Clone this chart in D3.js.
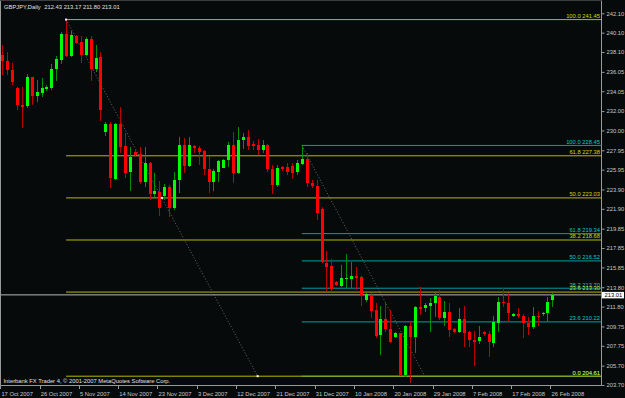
<!DOCTYPE html>
<html>
<head>
<meta charset="utf-8">
<script src="https://cdn.jsdelivr.net/npm/d3@7"></script>
<style>
  body { margin: 0; background: #060a0b; }
  svg { display: block; }
  text { font-family: "Liberation Sans", Arial, sans-serif; font-size: 5.8px; }
</style>
</head>
<body>
<svg id="chart" width="625" height="398"></svg>
<script>
// GBPJPY daily bars (Sunday bars included, no 1 Jan)
var dates = [
  '2007-10-17','2007-10-18','2007-10-19','2007-10-21','2007-10-22','2007-10-23','2007-10-24','2007-10-25',
  '2007-10-26','2007-10-28','2007-10-29','2007-10-30','2007-10-31','2007-11-01','2007-11-02','2007-11-04',
  '2007-11-05','2007-11-06','2007-11-07','2007-11-08','2007-11-09','2007-11-11','2007-11-12','2007-11-13',
  '2007-11-14','2007-11-15','2007-11-16','2007-11-18','2007-11-19','2007-11-20','2007-11-21','2007-11-22',
  '2007-11-23','2007-11-25','2007-11-26','2007-11-27','2007-11-28','2007-11-29','2007-11-30','2007-12-02',
  '2007-12-03','2007-12-04','2007-12-05','2007-12-06','2007-12-07','2007-12-09','2007-12-10','2007-12-11',
  '2007-12-12','2007-12-13','2007-12-14','2007-12-16','2007-12-17','2007-12-18','2007-12-19','2007-12-20',
  '2007-12-21','2007-12-23','2007-12-24','2007-12-25','2007-12-26','2007-12-27','2007-12-28','2007-12-30',
  '2007-12-31','2008-01-02','2008-01-03','2008-01-04','2008-01-06','2008-01-07','2008-01-08','2008-01-09',
  '2008-01-10','2008-01-11','2008-01-13','2008-01-14','2008-01-15','2008-01-16','2008-01-17','2008-01-18',
  '2008-01-20','2008-01-21','2008-01-22','2008-01-23','2008-01-24','2008-01-25','2008-01-27','2008-01-28',
  '2008-01-29','2008-01-30','2008-01-31','2008-02-01','2008-02-03','2008-02-04','2008-02-05','2008-02-06',
  '2008-02-07','2008-02-08','2008-02-10','2008-02-11','2008-02-12','2008-02-13','2008-02-14','2008-02-15',
  '2008-02-17','2008-02-18','2008-02-19','2008-02-20','2008-02-21','2008-02-22','2008-02-24','2008-02-25',
  '2008-02-26'
]
var open = [
  237.79,237.21,236.24,234.42,232.60,232.52,235.48,233.56,233.90,234.28,234.42,236.35,237.28,239.96,237.69,239.76,
  239.17,237.79,239.45,236.35,237.62,229.84,230.63,225.02,230.63,228.39,225.67,227.81,227.57,224.71,226.67,223.43,
  223.67,223.23,224.19,221.95,224.88,228.49,226.33,228.39,228.22,227.87,225.98,224.71,225.74,226.15,226.94,228.49,
  225.57,229.01,229.36,228.60,228.49,227.98,228.49,225.98,224.36,226.19,226.26,226.30,225.74,226.50,227.01,224.53,
  224.26,221.88,216.34,216.03,214.38,213.96,214.65,214.65,214.99,214.89,212.48,213.00,211.45,208.83,210.52,209.45,
  208.69,209.04,204.73,209.80,208.69,211.72,211.69,211.90,212.14,212.83,210.59,211.28,209.45,209.21,210.48,209.14,
  208.35,208.28,209.21,208.97,208.07,210.14,212.31,212.17,210.86,211.00,210.83,210.07,209.66,210.83,211.03,211.17,
  212.43
]
var high = [
  238.83,238.07,237.00,234.52,234.52,235.83,235.55,235.21,235.38,234.69,236.83,237.69,240.13,241.45,240.31,239.86,
  239.76,239.69,239.76,238.83,238.14,230.90,230.90,230.80,232.39,229.70,228.32,227.98,228.32,228.32,226.77,225.57,
  224.78,224.46,224.36,225.74,229.29,229.18,229.36,228.49,228.39,227.98,227.36,225.98,226.94,227.01,228.84,229.87,
  230.39,229.77,230.04,228.94,229.08,229.01,228.60,226.43,226.43,226.32,226.60,226.67,226.94,228.45,227.63,224.88,
  224.88,222.12,217.54,216.68,214.40,216.10,217.20,216.44,215.92,214.99,213.17,213.24,212.20,211.86,212.31,211.45,
  209.14,209.11,209.90,210.24,211.86,213.86,212.14,212.65,213.24,213.52,212.41,212.20,209.55,211.62,211.86,209.31,
  209.28,209.80,209.28,209.28,210.83,212.76,213.69,213.17,211.10,211.62,211.00,210.76,211.79,211.38,211.28,212.76,
  213.17
]
var low = [
  235.73,235.73,234.69,232.11,230.20,232.28,232.63,232.97,233.42,234.11,234.18,235.11,236.86,237.55,237.62,238.93,
  237.00,237.69,235.11,236.07,231.01,229.46,224.09,224.88,227.70,225.05,223.78,227.29,224.43,224.12,222.81,223.16,
  221.16,222.81,221.09,221.78,223.57,225.57,226.19,227.63,226.43,225.40,223.57,223.78,224.71,226.08,226.26,224.60,
  225.46,228.05,227.98,227.98,227.46,227.63,225.74,223.43,224.19,225.84,225.40,224.95,225.40,226.43,224.19,224.01,
  220.75,216.27,213.41,213.34,213.96,213.86,213.69,213.62,213.52,211.86,212.31,210.59,208.59,206.80,209.21,208.00,
  208.59,204.63,204.56,203.90,206.97,210.93,211.28,209.21,210.76,210.42,209.80,208.69,209.11,209.04,207.66,207.59,
  205.66,207.94,208.76,206.63,207.66,209.21,211.79,210.24,210.76,210.59,208.59,208.87,209.45,209.80,210.83,210.31,
  211.80
]
var close = [
  237.21,236.24,234.97,232.63,232.45,235.48,233.56,234.00,234.38,234.52,236.35,237.35,239.96,237.72,239.86,239.07,
  237.79,239.45,236.35,237.52,232.11,230.63,225.05,230.63,228.32,225.64,227.29,227.46,224.71,226.67,223.43,223.74,
  221.95,224.19,221.95,224.88,228.49,226.33,228.49,228.15,227.81,225.98,224.71,225.84,226.84,226.94,228.49,225.57,
  229.01,229.36,228.39,228.39,227.98,228.49,225.98,224.36,226.08,225.98,225.67,225.60,226.60,227.01,224.53,224.29,
  221.43,216.44,215.92,213.62,214.03,214.72,214.79,214.99,214.79,213.00,213.10,211.35,208.76,210.52,209.45,208.18,
  209.04,204.73,209.80,208.69,211.79,211.52,211.97,212.17,212.90,210.59,211.28,209.38,209.21,210.48,209.04,208.35,
  208.18,208.69,208.97,208.11,210.24,212.31,212.14,211.17,211.00,210.83,210.14,209.66,210.83,210.72,211.17,212.31,
  213.01
]

// price axis labels as printed on the right scale
var priceTicks = [242.10, 240.10, 238.10, 236.05, 234.05, 232.00, 230.00, 227.95, 225.95, 223.90,
  221.90, 219.85, 217.85, 215.85, 213.80, 211.80, 209.75, 207.75, 205.70, 203.70]

// two fibonacci retracements
var fiboLevels = ['100.0', '61.8', '50.0', '38.2', '23.6', '0.0']
var fiboYellow = [241.45, 227.38, 223.03, 218.68, 213.30, 204.61]
var fiboCyan = [228.45, 219.34, 216.52, 213.70, 210.22, 204.61]
var fiboYellowBars = [13, 52]
var fiboCyanBars = [61, 86]

var lastPrice = 213.01
var symbol = 'GBPJPY,Daily'

var parse = d3.timeParse('%Y-%m-%d'),
    fmt = d3.timeFormat('%-d %b %Y')

var svg = d3.select('#chart')
var right = 601.5, bottom = 385.5

var x = d3.scaleLinear().domain([0, 112]).range([2.2, 552.4])
var y = d3.scaleLinear().domain([203.70, 242.10]).range([385, 13.3])

var bars = dates.map(function (d, i) {
  return { i: i, date: parse(d), o: open[i], h: high[i], l: low[i], c: close[i] }
})

// chart frame: left, right and bottom edges, dim top edge
svg.append('path')
  .attr('d', 'M0.5,0.5V' + bottom + 'H' + right + 'V0.5')
  .attr('fill', 'none')
  .attr('stroke', '#9a9a9a')
svg.append('line')
  .attr('x1', 0.5).attr('x2', right).attr('y1', 0.5).attr('y2', 0.5)
  .attr('stroke', '#3a3e40')

// fibo levels
function fibo (prices, barIdx, lineColor, textColor) {
  var x0 = x(barIdx[0])
  var g = svg.append('g')
  g.selectAll('line')
    .data(prices)
    .enter()
    .append('line')
    .attr('x1', x0).attr('x2', right)
    .attr('y1', function (d) { return y(d) })
    .attr('y2', function (d) { return y(d) })
    .attr('stroke', lineColor)
  g.selectAll('text')
    .data(prices)
    .enter()
    .append('text')
    .attr('x', 600)
    .attr('y', function (d) { return y(d) - 1.6 })
    .attr('text-anchor', 'end')
    .attr('fill', textColor)
    .text(function (d, k) { return fiboLevels[k] + ' ' + d.toFixed(2) })
  // dotted trend line between the two anchors
  svg.append('line')
    .attr('x1', x0).attr('y1', y(prices[0]))
    .attr('x2', x(barIdx[1])).attr('y2', y(prices[prices.length - 1]))
    .attr('stroke', '#6a6a6a')
    .attr('stroke-dasharray', '1,2')
}
fibo(fiboCyan, fiboCyanBars, '#00a0a0', '#10c8c8')
fibo(fiboYellow, fiboYellowBars, '#b8b800', '#d8d800')

// last price line
svg.append('line')
  .attr('x1', 1).attr('x2', right)
  .attr('y1', y(lastPrice)).attr('y2', y(lastPrice))
  .attr('stroke', '#b8b8b8')

// candles
var candle = svg.append('g').selectAll('g')
  .data(bars)
  .enter()
  .append('g')
  .attr('shape-rendering', 'crispEdges')

candle.append('line')
  .attr('x1', function (d) { return Math.round(x(d.i)) + 0.5 })
  .attr('x2', function (d) { return Math.round(x(d.i)) + 0.5 })
  .attr('y1', function (d) { return y(d.h) })
  .attr('y2', function (d) { return y(d.l) })
  .attr('stroke', function (d) { return d.c >= d.o ? '#009000' : '#c00000' })

candle.append('rect')
  .attr('x', function (d) { return Math.round(x(d.i)) - 1 })
  .attr('width', 3)
  .attr('y', function (d) { return y(Math.max(d.o, d.c)) })
  .attr('height', function (d) { return Math.max(1, Math.abs(y(d.o) - y(d.c))) })
  .attr('fill', function (d) { return d.c >= d.o ? '#00ff00' : '#ff0000' })

// selection markers of the yellow fibo
var mids = [
  [x(fiboYellowBars[0]), y(fiboYellow[0])],
  [(x(fiboYellowBars[0]) + x(fiboYellowBars[1])) / 2, y(fiboYellow[2])],
  [x(fiboYellowBars[1]), y(fiboYellow[5])]
]
svg.selectAll('.marker')
  .data(mids)
  .enter()
  .append('rect')
  .attr('class', 'marker')
  .attr('x', function (d) { return d[0] - 1 })
  .attr('y', function (d) { return d[1] - 1 })
  .attr('width', 2).attr('height', 2)
  .attr('fill', '#ffffff')

// right price axis
var yAxis = svg.append('g')
  .attr('transform', 'translate(' + right + ',0)')
  .call(d3.axisRight(y).tickValues(priceTicks).tickSize(3).tickPadding(2)
    .tickFormat(d3.format('.2f')))
yAxis.select('.domain').remove()
yAxis.selectAll('line').attr('stroke', '#9a9a9a')
yAxis.selectAll('text')
  .attr('fill', '#c8c8c8')
  .style('font-size', '5.8px')
  .style('font-family', '"Liberation Sans", Arial, sans-serif')

// last price box
svg.append('rect')
  .attr('x', 602).attr('y', y(lastPrice) - 3)
  .attr('width', 22).attr('height', 6.5)
  .attr('fill', '#ffffff')
svg.append('text')
  .attr('x', 604.5).attr('y', y(lastPrice) + 2.3)
  .attr('fill', '#000000')
  .text(lastPrice.toFixed(2))

// time axis, one label every 8 bars
var timeTicks = d3.range(0, bars.length, 8)
var tg = svg.append('g').selectAll('g')
  .data(timeTicks)
  .enter()
  .append('g')
tg.append('line')
  .attr('x1', function (i) { return Math.round(x(i) - 2) + 0.5 })
  .attr('x2', function (i) { return Math.round(x(i) - 2) + 0.5 })
  .attr('y1', bottom).attr('y2', bottom + 3.5)
  .attr('stroke', '#9a9a9a')
tg.append('text')
  .attr('x', function (i) { return x(i) - 0.8 })
  .attr('y', 395.5)
  .attr('fill', '#c8c8c8')
  .text(function (i) { return fmt(bars[i].date) })

// header and copyright
svg.append('text')
  .attr('x', 4).attr('y', 8.5)
  .attr('fill', '#e0e0e0')
  .text(symbol)
svg.append('text')
  .attr('x', 44.3).attr('y', 8.5)
  .attr('fill', '#e0e0e0')
  .text([open[112], high[112], low[112], close[112]].map(function (v) { return v.toFixed(2) }).join(' '))
svg.append('text')
  .attr('x', 3.5).attr('y', 383)
  .attr('fill', '#e0e0e0')
  .text('Interbank FX Trader 4, \u00a9 2001-2007 MetaQuotes Software Corp.')
</script>
</body>
</html>
